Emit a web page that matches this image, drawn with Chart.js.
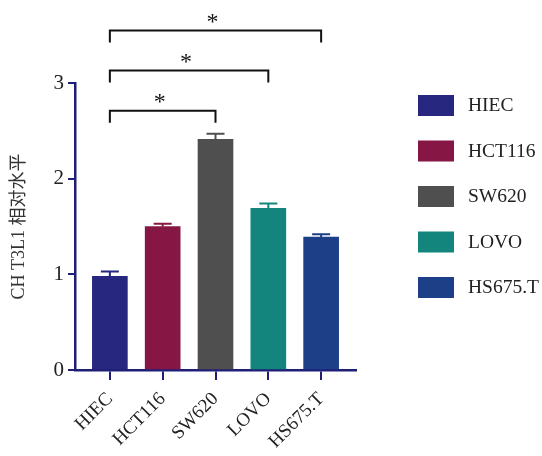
<!DOCTYPE html>
<html lang="en">
<head>
    <meta charset="UTF-8">
    <title>CHST3L1 relative level</title>
    <style>
        body { margin: 0; background: #ffffff; }
    </style>
    <script src="https://cdn.jsdelivr.net/npm/chart.js@4.4.0/dist/chart.umd.min.js"></script>
</head>
<body>
    <canvas id="chart" width="542" height="456"></canvas>
    <script>
        // values
        const cellLines = ['HIEC', 'HCT116', 'SW620', 'LOVO', 'HS675.T'];
        const levels = [0.98, 1.50, 2.41, 1.69, 1.39];
        const errors = [0.05, 0.03, 0.06, 0.05, 0.03];
        const barColors = ['#27277f', '#861744', '#4f4f4f', '#13857d', '#1d3f88'];
        const yTicks = [0, 1, 2, 3];
        // [from index, to index, height in y units]
        const brackets = [[0, 2, 2.71], [0, 3, 3.13], [0, 4, 3.55]];

        const axisColor = '#1f1f78';
        const serif = "'Liberation Serif', 'Noto Sans CJK SC', serif";

        const errorBars = {
            id: 'errorBars',
            afterDatasetsDraw(chart) {
                const ctx = chart.ctx, x = chart.scales.x, y = chart.scales.y;
                ctx.save();
                ctx.lineWidth = 2;
                levels.forEach((v, i) => {
                    const px = x.getPixelForValue(i);
                    const top = y.getPixelForValue(v + errors[i]);
                    ctx.strokeStyle = barColors[i];
                    ctx.beginPath();
                    ctx.moveTo(px, y.getPixelForValue(v));
                    ctx.lineTo(px, top);
                    ctx.moveTo(px - 9, top);
                    ctx.lineTo(px + 9, top);
                    ctx.stroke();
                });
                ctx.restore();
            }
        };

        const sigBrackets = {
            id: 'sigBrackets',
            afterDraw(chart) {
                const ctx = chart.ctx, x = chart.scales.x, y = chart.scales.y;
                ctx.save();
                ctx.strokeStyle = '#111';
                ctx.fillStyle = '#111';
                ctx.lineWidth = 2;
                ctx.font = '24px ' + serif;
                ctx.textAlign = 'center';
                ctx.textBaseline = 'middle';
                brackets.forEach(([a, b, h]) => {
                    const x1 = x.getPixelForValue(a), x2 = x.getPixelForValue(b);
                    const py = y.getPixelForValue(h);
                    ctx.beginPath();
                    ctx.moveTo(x1, py + 12);
                    ctx.lineTo(x1, py);
                    ctx.lineTo(x2, py);
                    ctx.lineTo(x2, py + 12);
                    ctx.stroke();
                    ctx.fillText('*', (x1 + x2) / 2 - 3, py - 8);
                });
                ctx.restore();
            }
        };

        const sideLegend = {
            id: 'sideLegend',
            afterDraw(chart) {
                const ctx = chart.ctx, area = chart.chartArea;
                ctx.save();
                ctx.font = '19.5px ' + serif;
                ctx.textBaseline = 'middle';
                cellLines.forEach((name, i) => {
                    const cy = area.top + 22 + i * 45.5;
                    ctx.fillStyle = barColors[i];
                    ctx.fillRect(area.right + 62, cy - 10, 36, 21);
                    ctx.fillStyle = '#222';
                    ctx.fillText(name, area.right + 112, cy + 1);
                });
                ctx.restore();
            }
        };

        new Chart(document.getElementById('chart').getContext('2d'), {
            type: 'bar',
            data: {
                datasets: [{
                    data: levels.map((v, i) => ({x: i, y: v})),
                    backgroundColor: barColors,
                    barThickness: 35,
                    borderWidth: 0
                }]
            },
            options: {
                responsive: false,
                animation: false,
                layout: { padding: { left: 0, top: 83, right: 186, bottom: 0 } },
                plugins: { legend: { display: false }, tooltip: { enabled: false } },
                scales: {
                    x: {
                        type: 'linear',
                        offset: false,
                        min: -0.66,
                        max: 4.66,
                        afterBuildTicks: s => { s.ticks = cellLines.map((c, i) => ({value: i})); },
                        afterFit: s => { s.height = 86; },
                        ticks: {
                            autoSkip: false,
                            minRotation: 45,
                            maxRotation: 45,
                            padding: 8,
                            color: '#222',
                            font: { family: serif, size: 19 },
                            callback: v => cellLines[v]
                        },
                        grid: { offset: false, drawOnChartArea: false, tickLength: 10, color: axisColor, lineWidth: 2 },
                        border: { color: axisColor, width: 2.5 }
                    },
                    y: {
                        min: 0,
                        max: 3,
                        afterBuildTicks: s => { s.ticks = yTicks.map(v => ({value: v})); },
                        afterFit: s => { s.width = 75; },
                        ticks: {
                            padding: 4,
                            color: '#222',
                            font: { family: serif, size: 21 }
                        },
                        grid: { drawOnChartArea: false, tickLength: 7, color: axisColor, lineWidth: 2 },
                        border: { color: axisColor, width: 2.5 },
                        title: {
                            display: true,
                            text: 'CH T3L1 相对水平',
                            color: '#333',
                            font: { family: serif, size: 18 },
                            padding: { top: 8, bottom: 0 }
                        }
                    }
                }
            },
            plugins: [errorBars, sigBrackets, sideLegend]
        });
    </script>
</body>
</html>
